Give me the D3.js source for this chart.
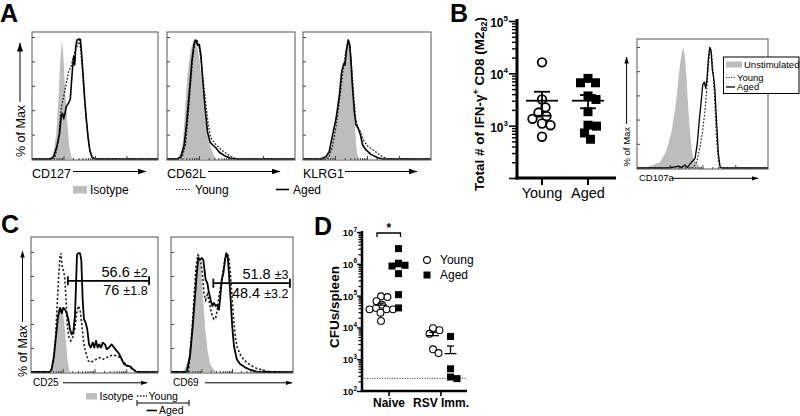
<!DOCTYPE html>
<html><head><meta charset="utf-8">
<script src="https://cdn.jsdelivr.net/npm/d3@7"></script>
<style>
body{margin:0;background:#fff}
svg{display:block}
text{font-family:"Liberation Sans",Arial,Helvetica,sans-serif;fill:#000}
</style></head>
<body><svg id="c" width="800" height="416"></svg>
<script>
// ---------------- DATA ----------------
// histogram curves: [fluorescence channel (0-100, log-decade units), % of max]
const cd127Iso   = [[14.4,0],[16.8,3],[19.2,20],[20.8,45],[22.4,80],[23.8,98],[24.8,85],[26.4,55],[28,30],[29.6,10],[31.2,2],[32.8,0]];
const cd127Young = [[16,0],[18.4,2],[21.1,15.6],[21.9,26.5],[23.2,41.5],[25.1,51],[26.9,60.6],[29.1,71.6],[30.9,75.7],[32.5,82.5],[34.4,89],[36.3,93.4],[37.6,97.5],[38.6,90],[39.4,80],[40.5,66],[41.9,46],[43.2,30],[44.5,17],[45.9,6.5],[47.7,1],[49.5,0]];
const cd127Aged  = [[14.4,0],[17.1,2],[19.7,10],[21.9,21],[23.2,36],[24.3,37.4],[25.1,33],[26.1,37],[27.2,43],[29.1,46],[30.4,49],[31.2,61],[32.3,76],[33.1,84],[33.9,77],[34.7,92],[35.7,97.5],[37.3,98.4],[38.4,98],[39.2,89],[40.5,70],[41.9,48],[43.2,32],[44.5,18],[45.9,7],[47.7,1.4],[50.4,0]];

const cd62lIso   = [[10,0],[12,9],[13.4,28],[16,69],[18.7,91],[21.3,97.5],[23.1,95],[25.2,82.5],[27.3,61],[29.1,39],[31.7,20],[34.4,9],[37,2],[38.8,0]];
const cd62lYoung = [[10,0],[12,2],[14.5,12],[16.5,35],[18.5,62],[20.3,85],[22,96],[23.5,98],[25,92],[26.5,82],[28,68],[30,48],[32,30],[34,18],[37,13],[40,10],[43,7],[47,4],[51,1.5],[55,0]];
const cd62lAged  = [[8,0],[10.8,2],[13.4,11.5],[15.2,28],[16.8,47],[18.1,63],[19.4,80],[21,93.4],[22,97.5],[23.1,96],[24.2,93],[25.2,94],[26.5,85],[27.8,66],[29.7,41.5],[31.7,22],[33.6,14],[35.7,11.5],[38.3,9],[40.9,5.5],[44.9,2.7],[50.2,0.5],[53.5,0]];

const klrg1Iso   = [[18,0],[21.9,9],[25.8,28],[28.4,47],[31,69],[33.6,88],[35.4,96],[37,91],[38.3,74],[39.6,47],[40.9,20],[42.2,4.7],[44,0]];
const klrg1Young = [[17,0],[20,1],[23,10],[26,28],[28.5,48],[31,70],[33,85],[35.2,98],[36.8,92],[38.2,72],[39.8,50],[41.2,32],[43,26],[45,22],[47,16],[50,11],[54,8],[58,5],[62,2],[66,0]];
const klrg1Aged  = [[14,0],[18,2],[20.5,6],[23.2,20],[25.8,33],[28.4,52],[30.2,71.6],[31.8,78],[32.8,77],[33.8,88],[35.4,97.5],[36.5,93.4],[37.5,80],[38.5,61],[40.1,39],[41.4,28],[43.2,25],[44.8,20],[46.6,11.5],[49.2,7.4],[53.1,3.8],[58.4,1],[62.3,0]];

const cd107aUnstim = [[6.1,0],[12.4,2.5],[17.6,5],[21.4,12],[23.9,20],[26.5,31],[29,48],[30.8,64],[32.3,81],[33.8,93],[35.3,99.7],[36.6,92],[37.9,73],[39.2,48],[40.5,29],[41.8,15],[43,8],[45.6,4],[48.1,1],[50.6,0]];
const cd107aYoung  = [[40.5,0],[43,0.5],[45.6,5],[48.1,17.6],[50.2,31],[51.9,48],[53.2,64],[54.4,83],[55.7,98.6],[57,94.5],[58.2,78],[59.5,51],[60.8,23],[62.1,5],[63.4,0.5],[65,0]];
const cd107aAged   = [[21.4,0],[29,1],[31.5,1.5],[34.1,0.5],[36.6,2.5],[38.4,0.5],[41.8,5],[44.3,8],[46,20],[47.6,40],[48.9,54],[50.2,69],[51.4,71],[52.4,66],[53.4,73],[54.4,89],[55.5,99.7],[56.5,97.5],[57.5,81],[58.5,75],[59.5,64],[60.8,37],[62.1,12],[63.4,1],[64.7,0]];

const cd25Iso   = [[15,0],[17.6,5],[19.7,24.5],[21,44],[22.3,52],[23.6,55],[24.9,52],[26.2,41],[27.6,24.5],[28.9,9],[30.2,1],[31.3,0]];
const cd25Young = [[15.7,0],[17.6,8],[19.4,30],[20.7,57.6],[21.8,79.6],[22.8,96],[23.6,99],[24.4,89],[25.4,85],[26.5,79.6],[27.6,60],[28.6,38],[29.9,28.7],[31.3,26],[32.8,28.7],[34.4,35.5],[36,49],[37.2,55],[38.6,52],[39.9,41],[41.2,27],[42.5,19],[43.9,13.5],[45.1,9.3],[47,8],[49.1,9.3],[51.7,10.7],[54.3,12],[56.9,10.7],[59.6,12],[62.2,13.5],[64.8,14],[67.5,13.5],[70.1,12],[72.7,8.5],[75.4,5.8],[78,3.9],[80.6,1.9],[83.2,0.3],[85.3,0]];
const cd25Aged  = [[15,0],[16.3,2.5],[18.1,13.5],[19.7,30],[21.3,46.5],[22.8,53.5],[24.2,49],[25.4,53.5],[26.8,52],[28.1,49],[29.4,44],[30.7,35.5],[32,31.4],[33.3,33],[34.6,46.5],[35.4,71],[36.2,97.5],[37.2,99],[38.6,99],[39.6,93.4],[40.7,60],[41.7,44],[43.1,41],[44.3,35.5],[45.7,23],[47,20.4],[48.6,24.5],[49.8,20.4],[51.2,26],[52.5,20.4],[53.8,23],[55.1,20.4],[56.5,24.5],[58.3,23],[59.6,19],[61.4,20.4],[63.5,23],[65.4,20.4],[67.5,17.6],[69.5,15],[71.4,10.7],[73.2,6.6],[75.4,5.2],[78,4.7],[80.1,2.5],[82.7,0.3],[84.3,0]];

const cd69Iso   = [[10.1,0],[14.2,10.7],[17,33],[18.9,60],[20.5,82],[21.9,96],[23.2,97.5],[24.6,88],[26,66],[27.9,38],[29.8,19],[32,6.6],[34.7,2.5],[37.5,0]];
const cd69Young = [[14.2,0],[16.1,21.7],[17.8,44],[19.1,66],[20.5,88],[21.9,97.5],[23.2,96],[24.6,90.7],[26,79.6],[27,66],[28.4,60],[29.8,64.5],[31.1,60],[32.5,52],[33.9,46.5],[35.2,44],[36.6,45],[38,52],[39.3,63],[40.7,71],[42,79.6],[43.4,89],[44.8,96],[46.1,99],[47.5,95],[48.9,79.6],[50.2,60],[51.6,41],[53,27],[54.3,20.4],[56.6,15],[59.3,10.7],[62,8],[66.1,5.2],[70.2,3],[75.7,1.4],[81.1,0]];
const cd69Aged  = [[12.9,0],[15.6,13.5],[17.8,38],[19.7,63],[21.1,82],[22.4,95],[23.8,93.4],[25.2,95],[26.5,93.4],[27.3,86.5],[28.4,77],[29.8,74],[31.1,66],[32.5,60],[33.9,55],[35.2,57.6],[36.6,55],[38,56],[39.3,52],[40.2,60],[41.6,77],[42.9,82],[44.3,93.4],[45.3,99],[46.5,96],[47.5,82],[48.9,60],[50.2,38],[51.6,21.7],[53.9,10.7],[56.6,6.6],[60.7,3.9],[64.8,1.9],[70.2,0.3],[74.6,0]];

// gates in C: [start channel, end channel, % level]
const cd25Gate = [29, 93, 76];
const cd69Gate = [34.7, 97.5, 74];
const cd25Stats = [["56.6", "±2"], ["76", "±1.8"]];
const cd69Stats = [["51.8", "±3"], ["48.4", "±3.2"]];

// panel B scatter (total # IFN-g+ CD8)
const bGroups = ["Young", "Aged"];
const bYoung = [16200, 3160, 2240, 1780, 1520, 1350, 1100, 1020, 615];
const bAged  = [8000, 6600, 6600, 3700, 3170, 1850, 1020, 980, 725, 550];
const bMean = [3000, 3000];
const bSem  = [1450, 850];
const bTicks = [1e3, 1e4, 1e5];

// panel D scatter (CFUs/spleen)
const dGroups = ["Naive", "RSV Imm."];
const dYoung = [[95000, 90000, 67000, 52000, 41000, 37000, 37000, 37000, 29000, 16000], [9500, 8200, 6300, 2050, 1560]];
const dAged  = [[3000000, 1000000, 900000, 850000, 490000, 107000, 41000], [5200, 500, 275, 245]];
const dYoungMean = [50000, 5500];
const dYoungSem  = [8000, 1500];
const dAgedMean  = [900000, 1500];
const dAgedSem   = [380000, 1100];
const dLimit = 250;
const dTicks = [1e2, 1e3, 1e4, 1e5, 1e6, 1e7];

const aLabels = ["CD127", "CD62L", "KLRG1"];
const legendA = ["Isotype", "Young", "Aged"];
const legendB = ["Unstimulated", "Young", "Aged"];

// ---------------- DRAWING ----------------
const svg = d3.select("#c");
const defs = svg.append("defs");
function marker(id, w, h) {
  defs.append("marker").attr("id", id).attr("markerUnits", "userSpaceOnUse")
    .attr("markerWidth", w).attr("markerHeight", h).attr("viewBox", `0 0 ${w} ${h}`)
    .attr("refX", w - 0.5).attr("refY", h / 2).attr("orient", "auto")
    .append("path").attr("d", `M0,0L${w},${h/2}L0,${h}Z`).attr("fill", "#000");
}
marker("arrL", 9, 6);
marker("arrS", 7, 4.5);

const GRAY = "#bdbdbd";
const line = (x, y) => d3.line().x(d => x(d[0])).y(d => y(d[1]));
const full = a => [[0, 0], ...a, [100, 0]];

function hist(p) {
  const x = d3.scaleLinear([0, 100], [p.x0, p.x1]);
  const y = d3.scaleLinear([0, 100], [p.y1 - 1, p.yTop]);
  const g = svg.append("g");
  g.append("path").datum(p.iso)
    .attr("d", d3.area().x(d => x(d[0])).y0(y(0)).y1(d => y(d[1])))
    .attr("fill", GRAY);
  g.append("path").datum(full(p.young)).attr("d", line(x, y))
    .attr("fill", "none").attr("stroke", "#222").attr("stroke-width", p.dw || 1.3)
    .attr("stroke-dasharray", p.dash || "1.8,1.6");
  g.append("path").datum(full(p.aged)).attr("d", line(x, y))
    .attr("fill", "none").attr("stroke", "#000").attr("stroke-width", p.lw || 1.6)
    .attr("stroke-linejoin", "round");
  g.append("rect").attr("x", p.x0).attr("y", p.y0).attr("width", p.x1 - p.x0)
    .attr("height", p.y1 - p.y0).attr("fill", "none").attr("stroke", "#555").attr("stroke-width", 1);
  g.append("g").attr("transform", `translate(${p.x0},0)`).attr("color", "#444")
    .call(d3.axisRight(y).tickValues([0, 20, 40, 60, 80, 100]).tickSize(3).tickFormat(""))
    .call(a => a.select(".domain").remove());
  const major = [], minor = [];
  for (let d = 0; d < 100; d += 25) { major.push(d); for (let k = 2; k < 10; k++) minor.push(d + 25 * Math.log10(k)); }
  const bx = g.append("g").attr("transform", `translate(0,${p.y1})`).attr("color", "#444");
  bx.append("g").call(d3.axisTop(x).tickValues(major.slice(1)).tickSize(4).tickFormat("")).call(a => a.select(".domain").remove());
  bx.append("g").call(d3.axisTop(x).tickValues(minor).tickSize(2).tickFormat("")).call(a => a.select(".domain").remove());
  return { x, y, g };
}

function yLabel(xBase, yStart, yTip, size, mk) {
  const t = svg.append("text").attr("transform", `translate(${xBase},${yStart}) rotate(-90)`)
    .attr("font-size", size).text("% of Max");
  const len = t.node().getComputedTextLength();
  const lx = xBase - size * 0.36;
  svg.append("line").attr("x1", lx).attr("x2", lx).attr("y1", yStart - len - 3).attr("y2", yTip)
    .attr("stroke", "#000").attr("stroke-width", 1).attr("marker-end", `url(#${mk})`);
}
function xLabel(txt, x, yBase, size, ax0, ax1, ay, mk) {
  svg.append("text").attr("x", x).attr("y", yBase).attr("font-size", size).text(txt);
  svg.append("line").attr("x1", ax0).attr("x2", ax1).attr("y1", ay).attr("y2", ay)
    .attr("stroke", "#000").attr("stroke-width", 1).attr("marker-end", `url(#${mk})`);
}
function panelLetter(t, x, y) {
  svg.append("text").attr("x", x).attr("y", y).attr("font-size", 25).attr("font-weight", "bold").text(t);
}

// ===== Panel A =====
panelLetter("A", 0, 22);
const aBoxes = [{x0: 32, x1: 158}, {x0: 167, x1: 295}, {x0: 303, x1: 431}];
const aCurves = [[cd127Iso, cd127Young, cd127Aged], [cd62lIso, cd62lYoung, cd62lAged], [klrg1Iso, klrg1Young, klrg1Aged]];
const aArrows = [[73, 146], [208, 280], [345, 417]];
aBoxes.forEach((b, i) => {
  hist({x0: b.x0, x1: b.x1, y0: 32, y1: 160, yTop: 37, iso: aCurves[i][0], young: aCurves[i][1], aged: aCurves[i][2]});
  xLabel(aLabels[i], b.x0, 178, 12.5, aArrows[i][0], aArrows[i][1], 171.5, "arrL");
});
yLabel(24.5, 157, 43, 12.5, "arrL");
// legend A
svg.append("rect").attr("x", 73).attr("y", 186).attr("width", 14).attr("height", 7.5).attr("fill", GRAY);
svg.append("text").attr("x", 90).attr("y", 193.5).attr("font-size", 12).text(legendA[0]);
svg.append("line").attr("x1", 176).attr("x2", 190).attr("y1", 189.5).attr("y2", 189.5).attr("stroke", "#222").attr("stroke-width", 1.2).attr("stroke-dasharray", "1.6,1.4");
svg.append("text").attr("x", 195).attr("y", 193.5).attr("font-size", 12).text(legendA[1]);
svg.append("line").attr("x1", 276).attr("x2", 289).attr("y1", 189.5).attr("y2", 189.5).attr("stroke", "#000").attr("stroke-width", 1.6);
svg.append("text").attr("x", 293).attr("y", 193.5).attr("font-size", 12).text(legendA[2]);

// ===== Panel B scatter =====
panelLetter("B", 450, 22);
function swarm(vals, yS, sep) {
  const pts = vals.map(v => ({v, y: yS(v), dx: 0}));
  const order = pts.slice().sort((a, b) => b.v - a.v);
  const placed = [];
  for (const p of order) {
    for (let i = 0; i < 400; i++) {
      const c = i === 0 ? 0 : (i % 2 ? 1 : -1) * Math.ceil(i / 2) * 0.5;
      if (placed.every(q => Math.hypot(q.dx - c, q.y - p.y) >= sep)) { p.dx = c; break; }
    }
    placed.push(p);
  }
  return pts;
}
function logMinor(lo, hi) {
  const out = [];
  for (let d = lo; d < hi; d *= 10) for (let k = 2; k < 10; k++) out.push(d * k);
  return out;
}
{
  const yS = d3.scaleLog().domain([1e2, 1e5]).range([178, 21]);
  const xS = d3.scalePoint().domain(bGroups).range([542, 588]);
  const ax = 517;
  const g = svg.append("g");
  g.append("g").attr("transform", `translate(${ax},0)`).attr("stroke-width", 1.4)
    .call(d3.axisLeft(yS).tickValues(logMinor(1e2, 1e5)).tickSize(5).tickFormat("")).call(a => a.select(".domain").remove());
  g.append("g").attr("transform", `translate(${ax},0)`).attr("stroke-width", 1.6)
    .call(d3.axisLeft(yS).tickValues([1e2, ...bTicks]).tickSize(8).tickFormat("")).call(a => a.select(".domain").remove());
  g.append("line").attr("x1", ax).attr("x2", ax).attr("y1", 19).attr("y2", 179.5).attr("stroke", "#000").attr("stroke-width", 3);
  g.append("line").attr("x1", ax - 1.5).attr("x2", 616).attr("y1", 178).attr("y2", 178).attr("stroke", "#000").attr("stroke-width", 3);
  bTicks.forEach(t => {
    const tx = g.append("text").attr("x", ax - 9).attr("y", yS(t) + 6).attr("text-anchor", "end")
      .attr("font-size", 12).attr("font-weight", "bold");
    tx.append("tspan").text("10");
    tx.append("tspan").attr("font-size", 8).attr("dy", -6).text(Math.round(Math.log10(t)));
  });
  bGroups.forEach(gname => {
    g.append("line").attr("x1", xS(gname)).attr("x2", xS(gname)).attr("y1", 178).attr("y2", 185).attr("stroke", "#000").attr("stroke-width", 2);
    g.append("text").attr("x", xS(gname)).attr("y", 198).attr("text-anchor", "middle").attr("font-size", 14.5).text(gname);
  });
  // points
  swarm(bYoung, yS, 8.5).forEach(p => {
    g.append("circle").attr("cx", xS("Young") + p.dx).attr("cy", p.y).attr("r", 4.3)
      .attr("fill", "#fff").attr("stroke", "#000").attr("stroke-width", 1.8);
  });
  swarm(bAged, yS, 8.5).forEach(p => {
    g.append("rect").attr("x", xS("Aged") + p.dx - 4.5).attr("y", p.y - 4.5).attr("width", 9).attr("height", 9).attr("fill", "#000");
  });
  bGroups.forEach((gname, i) => {
    const cx = xS(gname), m = bMean[i], s = bSem[i];
    g.append("line").attr("x1", cx - 16).attr("x2", cx + 16).attr("y1", yS(m)).attr("y2", yS(m)).attr("stroke", "#000").attr("stroke-width", 1.8);
    g.append("line").attr("x1", cx).attr("x2", cx).attr("y1", yS(m + s)).attr("y2", yS(m - s)).attr("stroke", "#000").attr("stroke-width", 1.8);
    [m + s, m - s].forEach(v => g.append("line").attr("x1", cx - 8).attr("x2", cx + 8).attr("y1", yS(v)).attr("y2", yS(v)).attr("stroke", "#000").attr("stroke-width", 1.8));
  });
  const tt = g.append("text").attr("transform", "translate(484,104) rotate(-90)").attr("text-anchor", "middle")
    .attr("font-size", 13.5).attr("font-weight", "bold");
  tt.append("tspan").text("Total # of IFN-\u03B3");
  tt.append("tspan").attr("font-size", 9).attr("dy", -5).text("+");
  tt.append("tspan").attr("dy", 5).text(" CD8 (M2");
  tt.append("tspan").attr("font-size", 9).attr("dy", 3).text("82");
  tt.append("tspan").attr("dy", -3).text(")");
}

// ===== Panel B histogram =====
hist({x0: 637, x1: 768, y0: 39, y1: 169, yTop: 47, iso: cd107aUnstim, young: cd107aYoung, aged: cd107aAged, lw: 1.3, dw: 1.1});
yLabel(630, 166.5, 57, 9.5, "arrS");
xLabel("CD107a", 639, 181, 9.5, 672, 758, 178.3, "arrS");
{
  const g = svg.append("g");
  g.append("rect").attr("x", 723.5).attr("y", 57).attr("width", 75.5).attr("height", 36.5).attr("fill", "#fff").attr("stroke", "#000").attr("stroke-width", 1);
  g.append("rect").attr("x", 726).attr("y", 61.5).attr("width", 16).attr("height", 6).attr("fill", GRAY);
  g.append("text").attr("x", 744).attr("y", 67.5).attr("font-size", 9.5).text(legendB[0]);
  g.append("line").attr("x1", 726).attr("x2", 735).attr("y1", 77.5).attr("y2", 77.5).attr("stroke", "#333").attr("stroke-width", 1).attr("stroke-dasharray", "1.3,1.2");
  g.append("text").attr("x", 737).attr("y", 80.5).attr("font-size", 9.5).text(legendB[1]);
  g.append("line").attr("x1", 726).attr("x2", 735).attr("y1", 87).attr("y2", 87).attr("stroke", "#000").attr("stroke-width", 1.3);
  g.append("text").attr("x", 737).attr("y", 90).attr("font-size", 9.5).text(legendB[2]);
}

// ===== Panel C =====
panelLetter("C", 1, 233);
const cBoxes = [{x0: 31, x1: 158}, {x0: 171, x1: 293}];
const cCurves = [[cd25Iso, cd25Young, cd25Aged], [cd69Iso, cd69Young, cd69Aged]];
const cGates = [cd25Gate, cd69Gate];
const cStats = [cd25Stats, cd69Stats];
const cLabels = ["CD25", "CD69"];
const cArrows = [[63, 147], [205, 292]];
cBoxes.forEach((b, i) => {
  const h = hist({x0: b.x0, x1: b.x1, y0: 237, y1: 373, yTop: 252, iso: cCurves[i][0], young: cCurves[i][1], aged: cCurves[i][2], lw: 1.8, dw: 1.6, dash: "2.2,2"});
  const [s, e, lv] = cGates[i];
  const gy = h.y(lv), gx0 = h.x(s), gx1 = h.x(e);
  h.g.append("line").attr("x1", gx0).attr("x2", gx1).attr("y1", gy).attr("y2", gy).attr("stroke", "#000").attr("stroke-width", 1.8);
  [gx0, gx1].forEach(xx => h.g.append("line").attr("x1", xx).attr("x2", xx).attr("y1", gy - 4.5).attr("y2", gy + 4.5).attr("stroke", "#000").attr("stroke-width", 1.8));
  cStats[i].forEach((st, j) => {
    const t = h.g.append("text").attr("x", gx1 - 1.5).attr("y", j === 0 ? gy - 4 : gy + 14.5).attr("text-anchor", "end").attr("font-size", 14.5);
    t.append("tspan").text(st[0] + " ");
    t.append("tspan").attr("font-size", 12.5).text(st[1]);
  });
  xLabel(cLabels[i], b.x0 + 2, 385.5, 10, cArrows[i][0], cArrows[i][1], 382.8, "arrS");
});
yLabel(27, 377, 251, 12.5, "arrS");
// legend C
svg.append("rect").attr("x", 86).attr("y", 393).attr("width", 11).attr("height", 6.5).attr("fill", GRAY);
svg.append("text").attr("x", 99.5).attr("y", 399.5).attr("font-size", 10.5).text(legendA[0]);
svg.append("line").attr("x1", 137).attr("x2", 147).attr("y1", 396).attr("y2", 396).attr("stroke", "#222").attr("stroke-width", 1.3).attr("stroke-dasharray", "1.6,1.4");
svg.append("text").attr("x", 148.5).attr("y", 399.5).attr("font-size", 10.5).text(legendA[1]);
svg.append("line").attr("x1", 137).attr("x2", 189).attr("y1", 403).attr("y2", 403).attr("stroke", "#000").attr("stroke-width", 1);
[137, 189].forEach(xx => svg.append("line").attr("x1", xx).attr("x2", xx).attr("y1", 400).attr("y2", 406).attr("stroke", "#000").attr("stroke-width", 1));
svg.append("line").attr("x1", 146.5).attr("x2", 157).attr("y1", 410.5).attr("y2", 410.5).attr("stroke", "#000").attr("stroke-width", 1.6);
svg.append("text").attr("x", 159).attr("y", 414).attr("font-size", 10.5).text(legendA[2]);

// ===== Panel D =====
panelLetter("D", 314, 235);
{
  const yS = d3.scaleLog().domain([1e2, 1e7]).range([391, 232]);
  const xS = d3.scalePoint().domain(dGroups).range([389, 441]);
  const ax = 362;
  const g = svg.append("g");
  g.append("g").attr("transform", `translate(${ax},0)`).attr("stroke-width", 1.2)
    .call(d3.axisLeft(yS).tickValues(logMinor(1e2, 1e7)).tickSize(3.5).tickFormat("")).call(a => a.select(".domain").remove());
  g.append("g").attr("transform", `translate(${ax},0)`).attr("stroke-width", 1.4)
    .call(d3.axisLeft(yS).tickValues(dTicks).tickSize(5).tickFormat("")).call(a => a.select(".domain").remove());
  g.append("line").attr("x1", ax).attr("x2", ax).attr("y1", 231).attr("y2", 392).attr("stroke", "#000").attr("stroke-width", 2.5);
  g.append("line").attr("x1", ax - 1.2).attr("x2", 467).attr("y1", 391).attr("y2", 391).attr("stroke", "#000").attr("stroke-width", 2.5);
  dTicks.forEach(t => {
    const tx = g.append("text").attr("x", ax - 5).attr("y", yS(t) + 4).attr("text-anchor", "end")
      .attr("font-size", 9.5).attr("font-weight", "bold");
    tx.append("tspan").text("10");
    tx.append("tspan").attr("font-size", 6.5).attr("dy", -4.5).text(Math.round(Math.log10(t)));
  });
  dGroups.forEach(gname => {
    g.append("line").attr("x1", xS(gname)).attr("x2", xS(gname)).attr("y1", 391).attr("y2", 396).attr("stroke", "#000").attr("stroke-width", 1.6);
    g.append("text").attr("x", xS(gname)).attr("y", 407).attr("text-anchor", "middle").attr("font-size", 12).attr("font-weight", "bold").text(gname);
  });
  g.append("line").attr("x1", ax).attr("x2", 467).attr("y1", yS(dLimit)).attr("y2", yS(dLimit))
    .attr("stroke", "#333").attr("stroke-width", 0.9).attr("stroke-dasharray", "1.2,1.3");
  const yOff = -8, aOff = 9.5;
  dGroups.forEach((gname, i) => {
    swarm(dYoung[i], yS, 6.5).forEach(p => g.append("circle").attr("cx", xS(gname) + yOff + p.dx).attr("cy", p.y).attr("r", 3.4)
      .attr("fill", "#fff").attr("stroke", "#000").attr("stroke-width", 1.1));
    swarm(dAged[i], yS, 6.5).forEach(p => g.append("rect").attr("x", xS(gname) + aOff + p.dx - 3.5).attr("y", p.y - 3.5)
      .attr("width", 7).attr("height", 7).attr("fill", "#000"));
    [[xS(gname) + yOff, dYoungMean[i], dYoungSem[i]], [xS(gname) + aOff, dAgedMean[i], dAgedSem[i]]].forEach(([cx, m, s]) => {
      g.append("line").attr("x1", cx - 6).attr("x2", cx + 6).attr("y1", yS(m)).attr("y2", yS(m)).attr("stroke", "#000").attr("stroke-width", 1.3);
      g.append("line").attr("x1", cx).attr("x2", cx).attr("y1", yS(m + s)).attr("y2", yS(m)).attr("stroke", "#000").attr("stroke-width", 1.3);
      g.append("line").attr("x1", cx - 3.5).attr("x2", cx + 3.5).attr("y1", yS(m + s)).attr("y2", yS(m + s)).attr("stroke", "#000").attr("stroke-width", 1.3);
    });
  });
  // significance bracket
  const bx0 = xS("Naive") + yOff - 4, bx1 = xS("Naive") + aOff + 2, by = 233;
  g.append("path").attr("d", `M${bx0},${by + 4}V${by}H${bx1}V${by + 4}`).attr("fill", "none").attr("stroke", "#000").attr("stroke-width", 1.3);
  g.append("text").attr("x", (bx0 + bx1) / 2).attr("y", by - 1).attr("text-anchor", "middle").attr("font-size", 12).attr("font-weight", "bold").text("*");
  // legend
  g.append("circle").attr("cx", 427).attr("cy", 260).attr("r", 3.4).attr("fill", "#fff").attr("stroke", "#000").attr("stroke-width", 1.1);
  g.append("text").attr("x", 440).attr("y", 264).attr("font-size", 12).text("Young");
  g.append("rect").attr("x", 423.5).attr("y", 271.5).attr("width", 7).attr("height", 7).attr("fill", "#000");
  g.append("text").attr("x", 440).attr("y", 279).attr("font-size", 12).text("Aged");
  g.append("text").attr("transform", "translate(339,307) rotate(-90)").attr("text-anchor", "middle")
    .attr("font-size", 13.5).attr("font-weight", "bold").text("CFUs/spleen");
}
</script>
</body></html>
